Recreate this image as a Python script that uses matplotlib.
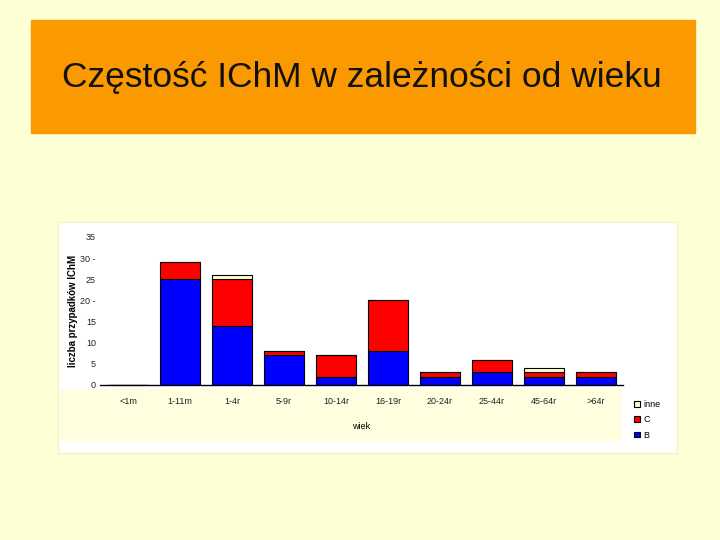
import numpy as np
import matplotlib.pyplot as plt
from matplotlib.patches import Rectangle

plt.rcParams['font.family'] = ['Liberation Sans', 'DejaVu Sans']

wiek = ['<1m', '1-11m', '1-4r', '5-9r', '10-14r', '16-19r', '20-24r', '25-44r', '45-64r', '>64r']
B = [0, 25, 14, 7, 2, 8, 2, 3, 2, 2]
C = [0, 4, 11, 1, 5, 12, 1, 3, 1, 1]
inne = [0, 0, 1, 0, 0, 0, 0, 0, 1, 0]
yticks = [0, 5, 10, 15, 20, 25, 30, 35]
ytick_labels = ['0', '5', '10', '15', '20 -', '25', '30 -', '35']

tlo = '#FFFFD6'
fig = plt.figure(figsize=(7.2, 5.4), dpi=100, facecolor=tlo)

# pomaranczowy pasek z tytulem
fig.patches.append(Rectangle((31/720, 1-133/540), 664/720, 113/540,
                             transform=fig.transFigure, color='#FA9A00', zorder=-3))
fig.text(362/720, 1-78/540, 'Częstość IChM w zależności od wieku',
         ha='center', va='center', fontsize=25.5, color='#111111')

# biale pole wykresu
fig.patches.append(Rectangle((58/720, 1-453/540), 619/720, 231/540,
                             transform=fig.transFigure, facecolor='white',
                             edgecolor='#F3F3D0', lw=1, zorder=-3))
# jasne pole pod osia X
fig.patches.append(Rectangle((60/720, 1-440/540), 560/720, 51/540,
                             transform=fig.transFigure, color='#FFFFE0', zorder=-2))

ax = fig.add_axes([100/720, 1-385/540, 523/720, 148/540])
ax.set_facecolor('none')
ax.set_zorder(2)
x = np.arange(len(wiek))
B = np.array(B); C = np.array(C); inne = np.array(inne)
w = 0.77
ax.bar(x, B, w, color='#0000FF', edgecolor='black', lw=0.8, label='B')
ax.bar(x, C, w, bottom=B, color='#FF0000', edgecolor='black', lw=0.8, label='C')
ax.bar(x, inne, w, bottom=B + C, color='#FFFFCC', edgecolor='black', lw=0.8, label='inne')

ax.set_xlim(-0.54, 9.52)
ax.set_ylim(0, 35)
for s in ['top', 'right', 'left']:
    ax.spines[s].set_visible(False)
ax.spines['bottom'].set_linewidth(1)
ax.set_yticks(yticks)
ax.set_yticklabels(ytick_labels, fontsize=6.5, color='#222222')
ax.tick_params(axis='y', length=0, pad=3)
ax.set_xticks(x)
ax.set_xticklabels(wiek, fontsize=6.5, color='#222222')
ax.tick_params(axis='x', length=0, pad=9)
ax.set_xlabel('wiek', fontsize=6.5, labelpad=11)
ax.set_ylabel('liczba przypadków IChM', fontsize=7, labelpad=2, fontweight='semibold')

h, l = ax.get_legend_handles_labels()
leg = fig.legend(h[::-1], l[::-1], loc='upper left', bbox_to_anchor=(626/720, 1-392/540),
                 fontsize=6.5, frameon=False, handlelength=0.6, handleheight=0.6,
                 handletextpad=0.4, labelspacing=0.7)

plt.savefig('out.png', dpi=100, facecolor=tlo)
